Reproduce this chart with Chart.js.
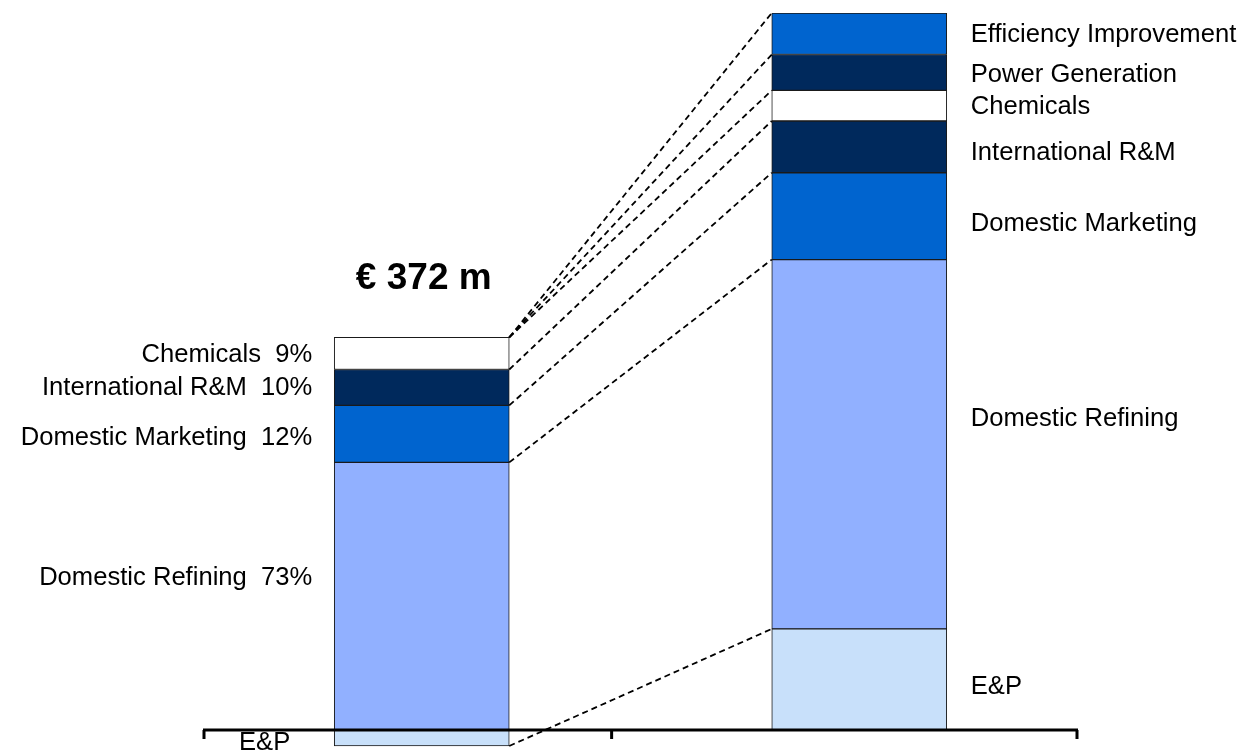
<!DOCTYPE html>
<html>
<head>
<meta charset="utf-8">
<script src="https://cdn.jsdelivr.net/npm/chart.js@4"></script>
<style>
  body { margin: 0; background: #fff; }
  #wrap { width: 1251px; height: 755px; }
</style>
</head>
<body>
<div id="wrap"><canvas id="chart"></canvas></div>
<script>
// Segments, bottom to top; values in % of the € 372 m total
const segments = ["E&P", "Domestic Refining", "Domestic Marketing", "International R&M",
  "Chemicals", "Power Generation", "Efficiency Improvement"];
const leftValues = [-4.2, 70.9, 15.1, 9.5, 8.5, null, null];
const rightValues = [26.8, 97.8, 23.0, 13.7, 8.1, 9.5, 11.0];
const leftLabels = ["E&P", "Domestic Refining  73%", "Domestic Marketing  12%",
  "International R&M  10%", "Chemicals  9%", "", ""];
const rightLabels = segments;
const totalLabel = "€ 372 m";
// which left segment top joins which right segment top
const links = [[4, 6], [4, 5], [4, 4], [3, 3], [2, 2], [1, 1], [0, 0]];

const colors = ["#c8e0fa", "#91b0ff", "#0064cf", "#00295c", "#ffffff", "#00295c", "#0064cf"];

const FONT = '"Liberation Sans", Arial, sans-serif';

const overlay = {
  id: "overlay",
  afterDatasetsDraw(chart) {
    const ctx = chart.ctx;
    const area = chart.chartArea;
    const y0 = chart.scales.y.getPixelForValue(0);

    // dashed connectors
    ctx.save();
    ctx.strokeStyle = "#000";
    ctx.lineWidth = 1.8;
    ctx.setLineDash([6, 4]);
    links.forEach(([l, r]) => {
      const a = chart.getDatasetMeta(l).data[0];
      const b = chart.getDatasetMeta(r).data[1];
      ctx.beginPath();
      ctx.moveTo(a.x + a.width / 2, a.y);
      ctx.lineTo(b.x - b.width / 2, b.y);
      ctx.stroke();
    });
    ctx.restore();

    // axis line and ticks
    ctx.save();
    ctx.strokeStyle = "#000";
    ctx.lineWidth = 3;
    ctx.beginPath();
    ctx.moveTo(area.left, y0);
    ctx.lineTo(area.right, y0);
    [area.left + 1, area.left + (area.right - area.left) * 0.467, area.right - 1].forEach((x) => {
      ctx.moveTo(x, y0);
      ctx.lineTo(x, y0 + 9);
    });
    ctx.stroke();
    ctx.restore();

    // segment labels
    ctx.save();
    ctx.fillStyle = "#000";
    ctx.font = "25.6px " + FONT;
    ctx.textBaseline = "middle";
    const leftShift = [0, -18, 4, 1, 2, 0, 0];
    const rightShift = [7, -25, 8, 6, 1, 2, 1];
    segments.forEach((s, i) => {
      const a = chart.getDatasetMeta(i).data[0];
      if (leftValues[i] !== null && leftLabels[i]) {
        ctx.textAlign = "right";
        if (i === 0) {
          ctx.fillText(leftLabels[i], a.x - a.width / 2 - 44, a.y - 3);
        } else {
          ctx.fillText(leftLabels[i], a.x - a.width / 2 - 22, (a.y + a.base) / 2 + leftShift[i]);
        }
      }
      const b = chart.getDatasetMeta(i).data[1];
      ctx.textAlign = "left";
      ctx.fillText(rightLabels[i], b.x + b.width / 2 + 24, (b.y + b.base) / 2 + rightShift[i]);
    });

    // total label above the left bar
    const top = chart.getDatasetMeta(4).data[0];
    ctx.font = "bold 37px " + FONT;
    ctx.textAlign = "center";
    ctx.textBaseline = "alphabetic";
    ctx.fillText(totalLabel, top.x + 2, top.y - 48);
    ctx.restore();
  },
};

new Chart(document.getElementById("chart"), {
  type: "bar",
  data: {
    labels: ["2004", "2010"],
    datasets: segments.map((s, i) => ({
      label: s,
      data: [leftValues[i], rightValues[i]],
      backgroundColor: colors[i],
      borderColor: "#1a1a1a",
      borderWidth: 1,
      borderSkipped: false,
      barThickness: 175,
    })),
  },
  options: {
    responsive: true,
    maintainAspectRatio: false,
    animation: false,
    layout: { padding: { left: 203, right: 173, top: 13, bottom: 6 } },
    plugins: { legend: { display: false }, tooltip: { enabled: false } },
    scales: {
      x: { stacked: true, display: false },
      y: { stacked: true, display: false, min: -5, max: 189.9 },
    },
  },
  plugins: [overlay],
});
</script>
</body>
</html>
